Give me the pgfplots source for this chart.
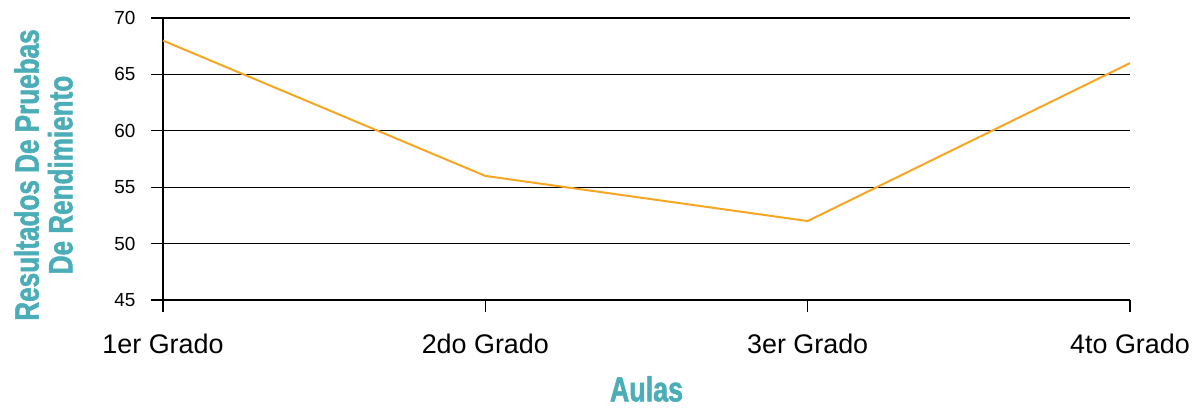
\documentclass[border=0pt]{standalone}
\usepackage{pgfplots}
\pgfplotsset{compat=1.18}
\usepackage{fontspec}
\setmainfont{Liberation Sans}
\newfontfamily\condfont[FakeStretch=0.77, FakeBold=1.5]{Liberation Sans Bold}
\definecolor{lineor}{RGB}{247,166,35}
\definecolor{teal1}{RGB}{74,173,184}
\begin{document}
\begin{tikzpicture}[x=1bp,y=1bp]
\useasboundingbox (0,0) rectangle (1200,407);
\begin{axis}[
  at={(163bp,107bp)}, anchor=south west,
  scale only axis, width=967bp, height=282bp,
  xmin=0, xmax=3, ymin=45, ymax=70,
  xtick={0,1,2,3},
  xticklabels={1er Grado,2do Grado,3er Grado,4to Grado},
  ytick={45,50,55,60,65,70},
  axis lines=left,
  axis line style={-, black, line width=1.1bp},
  ymajorgrids,
  grid style={black, line width=1.1bp},
  tick style={black, line width=1.1bp},
  major tick length=12bp,
  tick align=outside,
  /pgf/number format/assume math mode=true,
  yticklabel style={font=\fontsize{19}{21}\selectfont, xshift=-12bp},
  xticklabel style={font=\fontsize{27}{30}\selectfont, yshift=-18bp},
  xlabel={\condfont\fontsize{35}{36}\selectfont Aulas},
  xlabel style={text=teal1, yshift=-16bp},
  ylabel={\condfont\fontsize{34}{34}\selectfont\begin{tabular}{c}Resultados De Pruebas\\[-1bp]De Rendimiento\end{tabular}},
  ylabel style={text=teal1, yshift=25bp, xshift=-16bp},
  clip=false,
]
\addplot[lineor, line width=2bp, mark=none] coordinates {(0,68) (1,56) (2,52) (3,66)};
\end{axis}
\end{tikzpicture}
\end{document}
